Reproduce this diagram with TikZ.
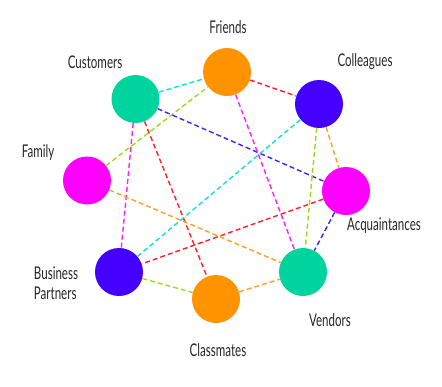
\documentclass[tikz,border=0pt]{standalone}
\usepackage{fontspec}
\setmainfont{Lato}[FakeStretch=0.66]
\definecolor{cgreen}{RGB}{0,212,158}
\definecolor{corange}{RGB}{255,148,0}
\definecolor{cblue}{RGB}{68,0,255}
\definecolor{cmag}{RGB}{255,0,255}
\definecolor{lcyan}{RGB}{20,220,220}
\definecolor{lgreen}{RGB}{150,220,30}
\definecolor{lblue}{RGB}{70,30,255}
\definecolor{lred}{RGB}{255,30,40}
\definecolor{lmag}{RGB}{255,30,255}
\definecolor{lorange}{RGB}{255,160,30}
\tikzset{
  person/.style={circle, minimum size=48pt, inner sep=0pt},
  lbl/.style={font=\fontsize{17.5}{20}\selectfont, text=black!85, inner sep=0pt, align=left},
  link/.style={line width=1.4pt, dash pattern=on 5pt off 3pt},
}
\begin{document}
\begin{tikzpicture}[x=1pt,y=-1pt]
\useasboundingbox (0,0) rectangle (442,386);
\node[person, fill=corange] (fri) at (227,72) {};
\node[person, fill=cgreen] (cus) at (135.5,99) {};
\node[person, fill=cblue] (col) at (319,104) {};
\node[person, fill=cmag] (fam) at (87,180.5) {};
\node[person, fill=cmag] (acq) at (346,191) {};
\node[person, fill=cblue] (bus) at (119,272) {};
\node[person, fill=corange] (cla) at (216,299) {};
\node[person, fill=cgreen] (ven) at (303,272) {};

\draw[link, lcyan] (cus) -- (fri);
\draw[link, lgreen] (fam) -- (fri);
\draw[link, lblue] (cus) -- (acq);
\draw[link, lred] (cus) -- (cla);
\draw[link, lmag] (cus) -- (bus);
\draw[link, lred] (fri) -- (col);
\draw[link, lmag] (fri) -- (ven);
\draw[link, lcyan] (col) -- (bus);
\draw[link, lgreen] (col) -- (ven);
\draw[link, lorange] (col) -- (acq);
\draw[link, lorange] (fam) -- (ven);
\draw[link, lred] (acq) -- (bus);
\draw[link, lblue] (acq) -- (ven);
\draw[link, lgreen] (bus) -- (cla);
\draw[link, lorange] (cla) -- (ven);

\node[lbl] (tfri) at (228,27) {Friends};
\node[lbl] (tcus) at (95,62) {Customers};
\node[lbl] (tcol) at (365,62) {Colleagues};
\node[lbl] (tfam) at (38,153) {Family};
\node[lbl] (tacq) at (384,226) {Acquaintances};
\node[lbl] (tbus) at (56,283) {Business\\Partners};
\node[lbl] (tcla) at (218,350) {Classmates};
\node[lbl] (tven) at (330,320) {Vendors};
\end{tikzpicture}
\end{document}
